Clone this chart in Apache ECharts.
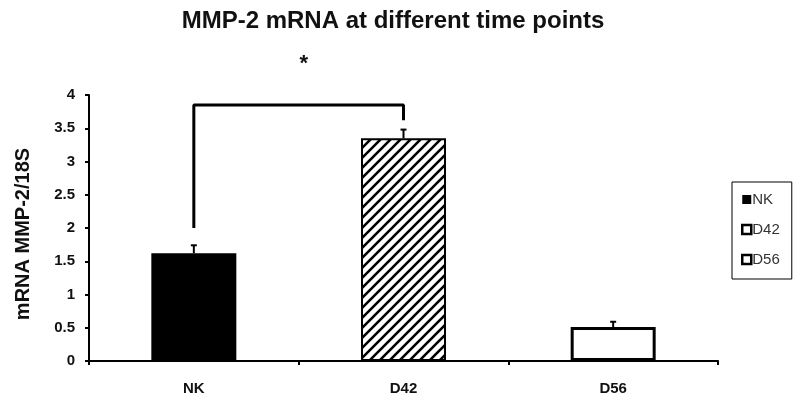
<!DOCTYPE html>
<html><head><meta charset="utf-8">
<script src="https://cdn.jsdelivr.net/npm/echarts@6/dist/echarts.min.js"></script>
<style>html,body{margin:0;padding:0;background:#fff}#c{width:800px;height:402px}</style>
</head><body><div id="c"></div>
<script>
const categories = ['NK', 'D42', 'D56'];
const values = [1.62, 3.35, 0.51];
const errors = [0.12, 0.13, 0.08];
const yTicks = [0, 0.5, 1, 1.5, 2, 2.5, 3, 3.5, 4];
// significance bracket: [category, value] points
const bracket = [['NK', 2.0], ['NK', 3.85], ['D42', 3.85], ['D42', 3.62]];
const starValue = 4.52;

function hatch() {
  const c = document.createElement('canvas');
  c.width = 10; c.height = 10;
  const g = c.getContext('2d');
  g.fillStyle = '#fff'; g.fillRect(0, 0, 10, 10);
  g.strokeStyle = '#000'; g.lineWidth = 2.6;
  g.beginPath();
  g.moveTo(-5, 5); g.lineTo(5, -5);
  g.moveTo(0, 10); g.lineTo(10, 0);
  g.moveTo(5, 15); g.lineTo(15, 5);
  g.stroke();
  return c;
}

const font = '"Liberation Sans", Arial, sans-serif';
const styles = [
  { color: '#000', borderColor: '#000', borderWidth: 2 },
  { color: { image: hatch(), repeat: 'repeat' }, borderColor: '#000', borderWidth: 2 },
  { color: '#fff', borderColor: '#000', borderWidth: 3 }
];

const barSeries = categories.map((name, i) => ({
  name: name,
  type: 'bar',
  barWidth: 85,
  barGap: '-100%',
  data: categories.map((_, j) => j === i ? values[i] : '-'),
  itemStyle: styles[i],
  emphasis: { disabled: true },
  z: 2
}));

const chart = echarts.init(document.getElementById('c'));
chart.setOption({
  animation: false,
  title: {
    text: 'MMP-2 mRNA at different time points',
    left: 388, top: 4, textAlign: 'center',
    textStyle: { fontFamily: font, fontSize: 24, fontWeight: 'bold', color: '#111' }
  },
  legend: {
    orient: 'vertical',
    left: 732, top: 182,
    padding: [10, 12, 12, 9],
    itemGap: 15,
    itemWidth: 9, itemHeight: 9,
    borderColor: '#000', borderWidth: 1,
    textStyle: { fontFamily: font, fontSize: 15, color: '#333', padding: [0, 0, 0, -4] },
    data: [
      { name: 'NK', icon: 'rect', itemStyle: { color: '#000', borderWidth: 0 } },
      { name: 'D42', icon: 'rect', itemStyle: { color: '#fff', borderColor: '#000', borderWidth: 2.5 } },
      { name: 'D56', icon: 'rect', itemStyle: { color: '#fff', borderColor: '#000', borderWidth: 2.5 } }
    ]
  },
  grid: { left: 89, right: 82, top: 95, bottom: 41, containLabel: false },
  xAxis: {
    type: 'category',
    data: categories,
    boundaryGap: true,
    axisLine: { lineStyle: { color: '#000', width: 2 } },
    axisTick: { show: true, length: 4, lineStyle: { color: '#000', width: 2 } },
    axisLabel: { fontFamily: font, fontSize: 15, fontWeight: 'bold', color: '#111', margin: 20 }
  },
  yAxis: {
    type: 'value',
    min: 0, max: 4, interval: 0.5,
    name: 'mRNA MMP-2/18S',
    nameLocation: 'middle',
    nameGap: 56,
    nameTextStyle: { fontFamily: font, fontSize: 20, fontWeight: 'bold', color: '#111', padding: [0, 0, 0, -12] },
    splitLine: { show: false },
    axisLine: { show: true, lineStyle: { color: '#000', width: 2 } },
    axisTick: { show: true, length: 4, lineStyle: { color: '#000', width: 2 } },
    axisLabel: {
      fontFamily: font, fontSize: 15, fontWeight: 'bold', color: '#111', margin: 14,
      formatter: v => yTicks.indexOf(v) >= 0 ? String(v) : ''
    }
  },
  series: barSeries.concat([
    {
      name: 'err', type: 'custom', z: 3,
      data: values.map((v, i) => [i, v, v + errors[i]]),
      renderItem: (params, api) => {
        const b = api.coord([api.value(0), api.value(1)]);
        const t = api.coord([api.value(0), api.value(2)]);
        return {
          type: 'group',
          children: [
            { type: 'line', shape: { x1: b[0], y1: b[1], x2: t[0], y2: t[1] }, style: { stroke: '#000', lineWidth: 2 } },
            { type: 'line', shape: { x1: t[0] - 3, y1: t[1], x2: t[0] + 3, y2: t[1] }, style: { stroke: '#000', lineWidth: 2 } }
          ]
        };
      }
    },
    {
      name: 'bracket', type: 'line', data: bracket, symbol: 'none', z: 4,
      lineStyle: { color: '#000', width: 3 }, clip: false, silent: true
    },
    {
      name: 'star', type: 'custom', z: 5, clip: false,
      data: [[0, 1, starValue]],
      renderItem: (params, api) => {
        const a = api.coord([api.value(0), api.value(2)]);
        const b = api.coord([api.value(1), api.value(2)]);
        return {
          type: 'text',
          style: { x: (a[0] + b[0]) / 2 + 5, y: a[1] + 4, text: '*', textAlign: 'center', textVerticalAlign: 'middle',
                   font: 'bold 22px ' + font, fill: '#111' }
        };
      }
    }
  ])
});
</script></body></html>
